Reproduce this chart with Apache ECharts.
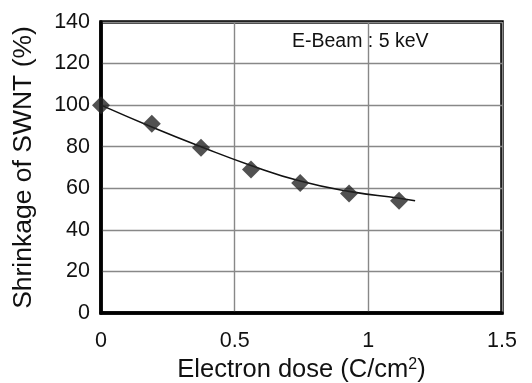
<!DOCTYPE html>
<html>
<head>
<meta charset="utf-8">
<script src="https://cdn.jsdelivr.net/npm/echarts@6/dist/echarts.min.js"></script>
<style>
  html, body { margin: 0; padding: 0; background: #fff; }
  #chart { width: 532px; height: 383px; }
</style>
</head>
<body>
<div id="chart"></div>
<script>
// measured points (electron dose, shrinkage %)
var doseX = [0, 0.19, 0.374, 0.561, 0.745, 0.928, 1.115];
var shrinkY = [100, 91, 79.5, 69, 62.5, 57.5, 54];
// fitted curve drawn under the markers
var fitX = [0, 0.19, 0.374, 0.561, 0.745, 0.928, 1.115, 1.175];
var fitY = [100, 89.5, 80, 71, 63.5, 58.5, 55.2, 54];
var yTicks = [0, 20, 40, 60, 80, 100, 120, 140];

var font = 'Liberation Sans, Arial, sans-serif';
var pts = [], fit = [];
for (var i = 0; i < doseX.length; i++) pts.push([doseX[i], shrinkY[i]]);
for (var j = 0; j < fitX.length; j++) fit.push([fitX[j], fitY[j]]);

var myChart = echarts.init(document.getElementById('chart'));
var option = {
  animation: false,
  grid: {
    left: 101, right: 30, top: 22, bottom: 70,
    outerBoundsMode: 'none', containLabel: false,
    show: true, borderColor: '#000', borderWidth: 3.5, backgroundColor: 'transparent'
  },
  xAxis: {
    type: 'value', min: 0, max: 1.5, interval: 0.5,
    axisLine: { show: true, lineStyle: { color: '#000', width: 3.5 } },
    axisTick: { show: false },
    splitLine: { show: true, lineStyle: { color: '#888', width: 1.4 } },
    axisLabel: { color: '#111', fontFamily: font, fontSize: 21.5, margin: 17,
      formatter: function(v) { return v === 0 ? '0' : String(v); } },
    name: '{t|Electron dose (C/cm}{s|2}{t|)}',
    nameLocation: 'middle', nameGap: 42,
    nameTextStyle: { rich: {
      t: { fontFamily: font, fontSize: 25.5, color: '#111' },
      s: { fontFamily: font, fontSize: 16, color: '#111', verticalAlign: 'top', padding: [0, 0, 10, 0] }
    } }
  },
  yAxis: {
    type: 'value', min: 0, max: 140, interval: 20,
    axisLine: { show: true, lineStyle: { color: '#000', width: 3.5 } },
    axisTick: { show: false },
    splitLine: { show: true, lineStyle: { color: '#888', width: 1.4 } },
    axisLabel: { color: '#111', fontFamily: font, fontSize: 21.5, margin: 11 },
    name: 'Shrinkage of SWNT (%)',
    nameLocation: 'middle', nameGap: 64,
    nameTextStyle: { fontFamily: font, fontSize: 26.5, color: '#111' }
  },
  graphic: [{
    type: 'text', left: 292, top: 32,
    style: { text: 'E-Beam : 5 keV', fontFamily: font, fontSize: 19.5, fill: '#111' }
  }],
  series: [{
    type: 'line', data: fit, smooth: true, symbol: 'none',
    lineStyle: { color: '#111', width: 1.6 }, z: 2
  }, {
    type: 'scatter', data: pts, symbol: 'diamond', symbolSize: 18,
    itemStyle: { color: '#262626' }, z: 3
  }]
};
myChart.setOption(option);
</script>
</body>
</html>
